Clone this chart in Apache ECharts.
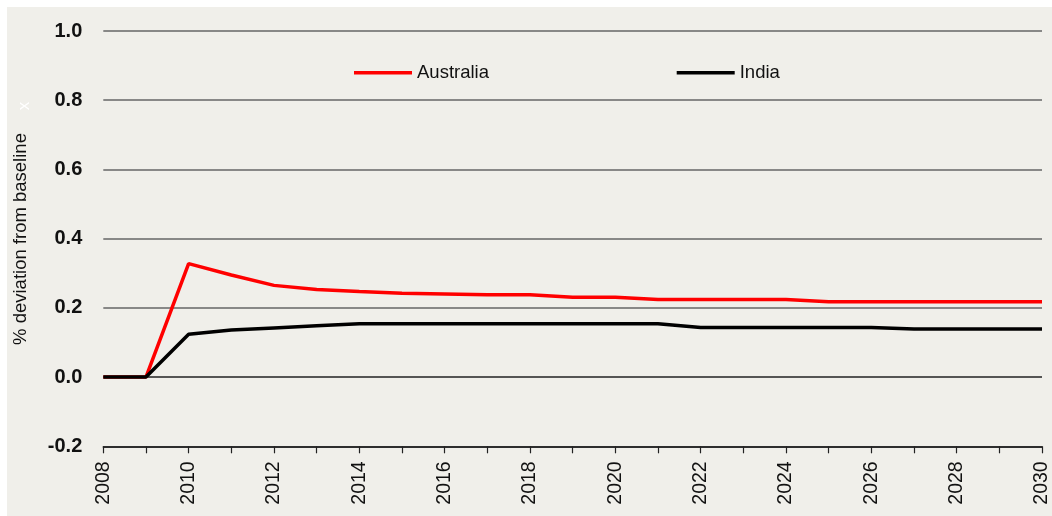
<!DOCTYPE html>
<html>
<head>
<meta charset="utf-8">
<script src="https://cdn.jsdelivr.net/npm/echarts@6/dist/echarts.min.js"></script>
<style>
html,body{margin:0;padding:0;background:#ffffff;width:1052px;height:516px;overflow:hidden;}
#chart{position:absolute;left:7px;top:7px;width:1045px;height:509px;background:#f0efea;}
</style>
</head>
<body>
<div id="chart"></div>
<script>
const years = ['2008','2009','2010','2011','2012','2013','2014','2015','2016','2017','2018','2019','2020','2021','2022','2023','2024','2025','2026','2027','2028','2029','2030'];
const australia = [0, 0, 0.328, 0.295, 0.265, 0.253, 0.247, 0.242, 0.240, 0.238, 0.238, 0.231, 0.231, 0.224, 0.224, 0.224, 0.224, 0.218, 0.218, 0.218, 0.218, 0.218, 0.218];
const india = [0, 0, 0.124, 0.136, 0.142, 0.148, 0.154, 0.154, 0.154, 0.154, 0.154, 0.154, 0.154, 0.154, 0.143, 0.143, 0.143, 0.143, 0.143, 0.139, 0.139, 0.139, 0.139];
const yTitle = '% deviation from baseline';

const FONT = "'Liberation Sans Narrow', 'Arial Narrow', 'Liberation Sans', sans-serif";
const chart = echarts.init(document.getElementById('chart'), null, {renderer: 'canvas'});
chart.setOption({
  backgroundColor: 'transparent',
  animation: false,
  grid: {left: 96.3, right: 9.7, top: 24, bottom: 69.7, containLabel: false},
  legend: [
    {data: ['Australia'], left: 347, top: 55.7, padding: 0, icon: 'rect', itemWidth: 58, itemHeight: 3.5,
     textStyle: {fontFamily: FONT, fontSize: 18.5, color: '#111', lineHeight: 20}},
    {data: ['India'], left: 669.7, top: 55.7, padding: 0, icon: 'rect', itemWidth: 58, itemHeight: 3.5,
     textStyle: {fontFamily: FONT, fontSize: 18.5, color: '#111', lineHeight: 20}}
  ],
  xAxis: {
    type: 'category', data: years, boundaryGap: false,
    axisLine: {onZero: false, lineStyle: {color: '#222', width: 1.5}},
    axisTick: {show: true, interval: 0, length: 7, lineStyle: {color: '#222', width: 1.2}},
    axisLabel: {interval: 1, rotate: 90, margin: 15, fontFamily: FONT, fontSize: 19.5, color: '#111'},
    splitLine: {show: false}
  },
  yAxis: {
    type: 'value', min: -0.2, max: 1.0, interval: 0.2,
    axisLine: {show: false}, axisTick: {show: false},
    axisLabel: {margin: 21, fontFamily: FONT, fontSize: 20, fontWeight: 'bold', color: '#111',
      formatter: v => v.toFixed(1)},
    splitLine: {show: true, lineStyle: {color: ['#222222', '#222222', '#666666', '#666666', '#666666', '#666666', '#666666'], width: 1.5}}
  },
  graphic: [
    {type: 'text', x: 14, y: 232, rotation: Math.PI / 2,
     style: {text: yTitle, fontFamily: FONT, fontSize: 18.5, fill: '#111', textAlign: 'center', textVerticalAlign: 'middle'}},
    {type: 'text', x: 17, y: 99, rotation: Math.PI / 2,
     style: {text: 'x', fontFamily: FONT, fontSize: 17, fill: '#ffffff', textAlign: 'center', textVerticalAlign: 'middle'}}
  ],
  series: [
    {name: 'Australia', type: 'line', data: australia, symbol: 'none', color: '#ff0000',
     lineStyle: {color: '#ff0000', width: 3.5}},
    {name: 'India', type: 'line', data: india, symbol: 'none', color: '#000000',
     lineStyle: {color: '#000000', width: 3.5}}
  ]
});
</script>
</body>
</html>
